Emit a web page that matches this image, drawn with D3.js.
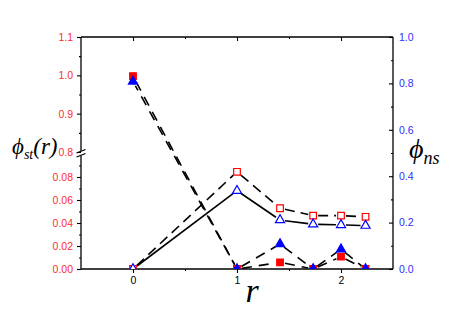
<!DOCTYPE html>
<html><head><meta charset="utf-8">
<script src="https://cdn.jsdelivr.net/npm/d3@7"></script>
<style>
html,body{margin:0;padding:0;background:#fff;}
svg{display:block;}
text{font-family:Arial,"Liberation Sans",sans-serif;}
.ser{font-family:"Liberation Serif","Times New Roman",serif;font-style:italic;}
</style></head>
<body><svg id="c" width="457" height="323"></svg>
<script>
// ---- data ----
const rValues   = [0, 1, 1.414, 1.732, 2, 2.236];
const phiStRed  = [0.998, 0, 0.0058, 0, 0.0107, 0];   // filled red squares (left axis)
const phiStBlue = [0.984, 0, 0.0217, 0, 0.0171, 0];   // filled blue triangles (left axis)
const phiNsRed  = [0, 0.419, 0.262, 0.230, 0.230, 0.225];   // open red squares (right axis)
const phiNsBlue = [0, 0.3375, 0.211, 0.193, 0.190, 0.187];  // open blue triangles (right axis)
const xMajor = [0, 1, 2], xMinor = [0.5, 1.5];
const leftLowMajor = [0, 0.02, 0.04, 0.06, 0.08], leftLowMinor = [0.01, 0.03, 0.05, 0.07, 0.09];
const leftHighMajor = [0.8, 0.9, 1.0, 1.1], leftHighMinor = [0.85, 0.95, 1.05];
const rightMajor = [0, 0.2, 0.4, 0.6, 0.8, 1.0], rightMinor = [0.1, 0.3, 0.5, 0.7, 0.9];

const RED = "#ff0000", BLUE = "#0000ff", LRED = "#ff2d2d", LBLUE = "#2d2dff";
const L = 81, R = 393, T = 37, B = 269;
const svg = d3.select("#c");

const x = d3.scaleLinear().domain([-0.5, 2.5]).range([L, R]);
const yTop = d3.scaleLinear().domain([0.8, 1.1]).range([152, T]);
const yBot = d3.scaleLinear().domain([0, 0.1]).range([B, 154]);
const yL = v => v >= 0.5 ? yTop(v) : yBot(v);
const yR = d3.scaleLinear().domain([0, 1]).range([B, T]);

function styleAxis(g){ g.select(".domain").remove(); g.selectAll("line").attr("stroke","#000").attr("stroke-width",1.1); }

// bottom axis
svg.append("g").attr("transform",`translate(0,${B})`)
  .call(d3.axisBottom(x).tickValues(xMajor).tickFormat(d3.format("d")).tickSize(4).tickPadding(4))
  .call(styleAxis).call(g=>g.selectAll("text").attr("font-size","10.5px").attr("fill","#000"));
svg.append("g").attr("transform",`translate(0,${B})`)
  .call(d3.axisBottom(x).tickValues(xMinor).tickFormat("").tickSize(2)).call(styleAxis);
// top axis (inward, no labels)
svg.append("g").attr("transform",`translate(0,${T})`)
  .call(d3.axisTop(x).tickValues(xMajor).tickFormat("").tickSize(-4)).call(styleAxis);
svg.append("g").attr("transform",`translate(0,${T})`)
  .call(d3.axisTop(x).tickValues(xMinor).tickFormat("").tickSize(-2)).call(styleAxis);

// left axes (broken)
function leftAxis(scale, major, minor, fmt){
  svg.append("g").attr("transform",`translate(${L},0)`)
    .call(d3.axisLeft(scale).tickValues(major).tickFormat(d3.format(fmt)).tickSize(4).tickPadding(4))
    .call(styleAxis).call(g=>g.selectAll("text").attr("font-size","10.5px").attr("fill",LRED));
  svg.append("g").attr("transform",`translate(${L},0)`)
    .call(d3.axisLeft(scale).tickValues(minor).tickFormat("").tickSize(2)).call(styleAxis);
}
leftAxis(yBot, leftLowMajor, leftLowMinor, ".2f");
leftAxis(yTop, leftHighMajor, leftHighMinor, ".1f");

// right axis (ticks inward)
svg.append("g").attr("transform",`translate(${R},0)`)
  .call(d3.axisRight(yR).tickValues(rightMajor).tickFormat(d3.format(".1f")).tickSize(-4).tickPadding(6))
  .call(styleAxis).call(g=>g.selectAll("text").attr("font-size","10.5px").attr("fill",LBLUE));
svg.append("g").attr("transform",`translate(${R},0)`)
  .call(d3.axisRight(yR).tickValues(rightMinor).tickFormat("").tickSize(-2)).call(styleAxis);

// frame
const frame = svg.append("g").attr("stroke","#000").attr("stroke-width",1.3).attr("fill","none");
frame.append("line").attr("x1",L).attr("x2",R).attr("y1",T).attr("y2",T);
frame.append("line").attr("x1",L).attr("x2",R).attr("y1",B).attr("y2",B);
frame.append("line").attr("x1",R).attr("x2",R).attr("y1",T).attr("y2",B);
frame.append("line").attr("x1",L).attr("x2",L).attr("y1",T).attr("y2",151);
frame.append("line").attr("x1",L).attr("x2",L).attr("y1",155.5).attr("y2",B);
frame.append("line").attr("x1",L-4.5).attr("x2",L+4.5).attr("y1",153).attr("y2",149.5);
frame.append("line").attr("x1",L-4.5).attr("x2",L+4.5).attr("y1",157).attr("y2",153.5);

// clip
svg.append("clipPath").attr("id","clip").append("rect").attr("x",L).attr("y",T).attr("width",R-L).attr("height",B-T);
const plot = svg.append("g").attr("clip-path","url(#clip)");

// lines with gaps around markers; steep dashed segments get their dash phase
// tied to the vertical position so parallel lines show side-by-side dashes
function drawLine(vals, yScale, dash, gap){
  const pts = rValues.map((r,i)=>[x(r), yScale(vals[i])]);
  const g = plot.append("g");
  const period = dash ? d3.sum(dash.split(",").map(Number)) : 0;
  for(let i=0;i<pts.length-1;i++){
    const [x1,y1]=pts[i],[x2,y2]=pts[i+1];
    const dx=x2-x1, dy=y2-y1, len=Math.hypot(dx,dy);
    if(len < 2*gap+1) continue;
    const ux=dx/len, uy=dy/len;
    const sx=x1+ux*gap, sy=y1+uy*gap;
    let off = 0;
    if(dash && Math.abs(dy) > Math.abs(dx)){
      off = ((sy - T) / Math.abs(uy)) % period;
    }
    g.append("path")
      .attr("d", d3.line()([[sx,sy],[x2-ux*gap,y2-uy*gap]]))
      .attr("fill","none").attr("stroke","#000").attr("stroke-width",1.6)
      .attr("stroke-dasharray", dash).attr("stroke-dashoffset", off);
  }
}
drawLine(phiNsRed, yR, "10,6", 5);
drawLine(phiNsBlue, yR, null, 5);
drawLine(phiStRed, yL, "10,7", 5);
drawLine(phiStBlue, yL, "10,7", 5);

// markers
function drawMarkers(vals, yScale, type, size, fill, stroke){
  plot.append("g").selectAll("path").data(vals).join("path")
    .attr("transform",(d,i)=>`translate(${x(rValues[i])},${yScale(d)})`)
    .attr("d", d3.symbol().type(type).size(size)())
    .attr("fill", fill).attr("stroke", stroke).attr("stroke-width",1.2);
}
drawMarkers(phiNsRed, yR, d3.symbolSquare, 44, "#fff", RED);
drawMarkers(phiNsBlue, yR, d3.symbolTriangle, 36, "#fff", BLUE);
drawMarkers(phiStRed, yL, d3.symbolSquare, 44, RED, RED);
drawMarkers(phiStBlue, yL, d3.symbolTriangle, 36, BLUE, BLUE);

// axis titles
const lt = svg.append("text").attr("class","ser").attr("x",12).attr("y",154).attr("fill","#000");
lt.append("tspan").attr("font-size","23px").text("ϕ");
lt.append("tspan").attr("font-size","14px").attr("dy",5).text("st");
lt.append("tspan").attr("font-size","23px").attr("dy",-5).text("(r)");

const rt = svg.append("text").attr("class","ser").attr("x",409).attr("y",158).attr("fill","#000");
rt.append("tspan").attr("font-size","28px").text("ϕ");
rt.append("tspan").attr("font-size","18px").attr("dy",6).text("ns");

svg.append("text").attr("class","ser").attr("x",252).attr("y",302).attr("text-anchor","middle")
  .attr("font-size","34px").attr("fill","#000").text("r");
</script></body></html>
